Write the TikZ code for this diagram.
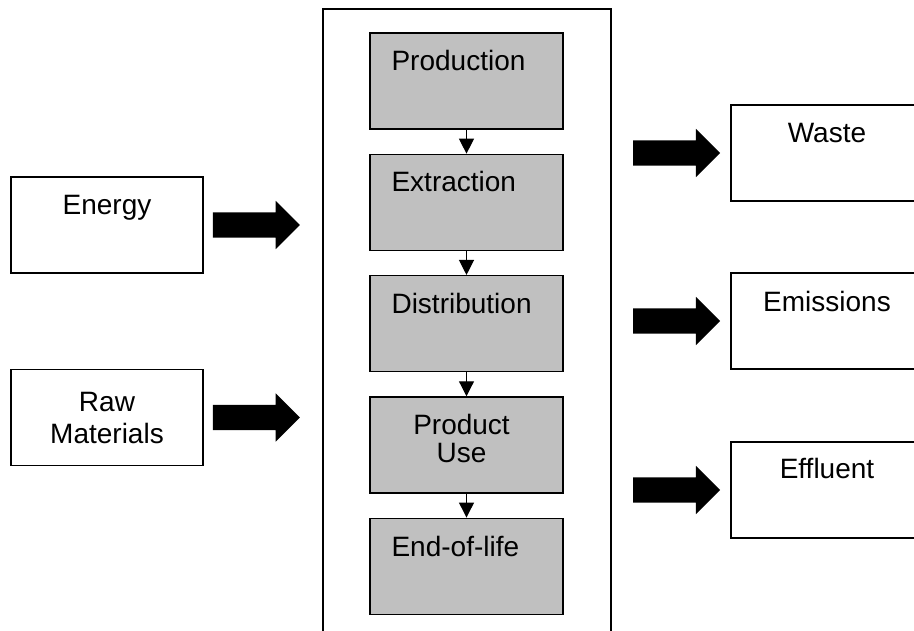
\documentclass[tikz,border=0pt]{standalone}
\usepackage{fontspec}
\setmainfont{Liberation Sans}
\usepackage{tikz}
\usetikzlibrary{positioning,shapes.arrows,arrows.meta}
\definecolor{stagegray}{HTML}{C0C0C0}
\tikzstyle{stage} = [draw,fill=stagegray,line width=1.3pt,minimum width=193pt,minimum height=96pt,inner sep=0pt]
\tikzstyle{flowbox} = [draw,line width=1.3pt,minimum width=192pt,minimum height=96pt,inner sep=0pt]
\tikzstyle{bigarrow} = [single arrow,fill=black,inner xsep=0pt,inner ysep=12.5pt,minimum height=87pt,single arrow head extend=11.5pt]
\tikzstyle{flow} = [line width=1.2pt,-{Triangle[width=15pt,length=15pt]}]
\tikzstyle{lbl} = [inner sep=0pt]

\begin{document}
\begin{tikzpicture}[x=1pt,y=-1pt,font=\fontsize{28}{32}\selectfont]
                \useasboundingbox (0,0) rectangle (914,630);

                % frame round the stages, open at the bottom
                \draw [line width=1.3pt] (323,640) -- (323,9) -- (611,9) -- (611,640);

                % stages
                \node [stage] (prod) at (466.5,81) {};
                \node [stage,below=24pt of prod] (extr) {};
                \node [stage,below=24pt of extr] (dist) {};
                \node [stage,below=24pt of dist] (use) {};
                \node [stage,below=24pt of use] (eol) {};
                \node [lbl,anchor=base west] (prodtxt) at ([shift={(22,38)}]prod.north west) {Production};
                \node [lbl,anchor=base west] (extrtxt) at ([shift={(22,38)}]extr.north west) {Extraction};
                \node [lbl,anchor=base west] (disttxt) at ([shift={(22,39)}]dist.north west) {Distribution};
                \node [lbl,align=center] (usetxt) at ([shift={(-5,-6)}]use.center) {Product\\[-4pt]Use};
                \node [lbl,anchor=base west] (eoltxt) at ([shift={(22,39)}]eol.north west) {End-of-life};
                \foreach \a/\b in {prod/extr,extr/dist,dist/use,use/eol}
                    \draw [flow] (\a) -- (\b);

                % inputs
                \node [flowbox] (energy) at (107,225) {};
                \node [flowbox] (raw) at (107,417.5) {};
                \node [lbl,anchor=base] (energytxt) at ([shift={(0,38)}]energy.north) {Energy};
                \node [lbl,align=center] (rawtxt) at (raw.center) {Raw\\Materials};
                \node [bigarrow,right=9pt of energy] (energyin) {};
                \node [bigarrow,right=9pt of raw] (rawin) {};

                % outputs
                \node [flowbox] (waste) at (827,153) {};
                \node [flowbox] (emis) at (827,321) {};
                \node [flowbox] (effl) at (827,490) {};
                \node [lbl,anchor=base] (wastetxt) at ([shift={(0,38)}]waste.north) {Waste};
                \node [lbl,anchor=base] (emistxt) at ([shift={(0,39)}]emis.north) {Emissions};
                \node [lbl,anchor=base] (effltxt) at ([shift={(0,37)}]effl.north) {Effluent};
                \node [bigarrow,left=10pt of waste] (wasteout) {};
                \node [bigarrow,left=10pt of emis] (emisout) {};
                \node [bigarrow,left=10pt of effl] (efflout) {};
\end{tikzpicture}
\end{document}
